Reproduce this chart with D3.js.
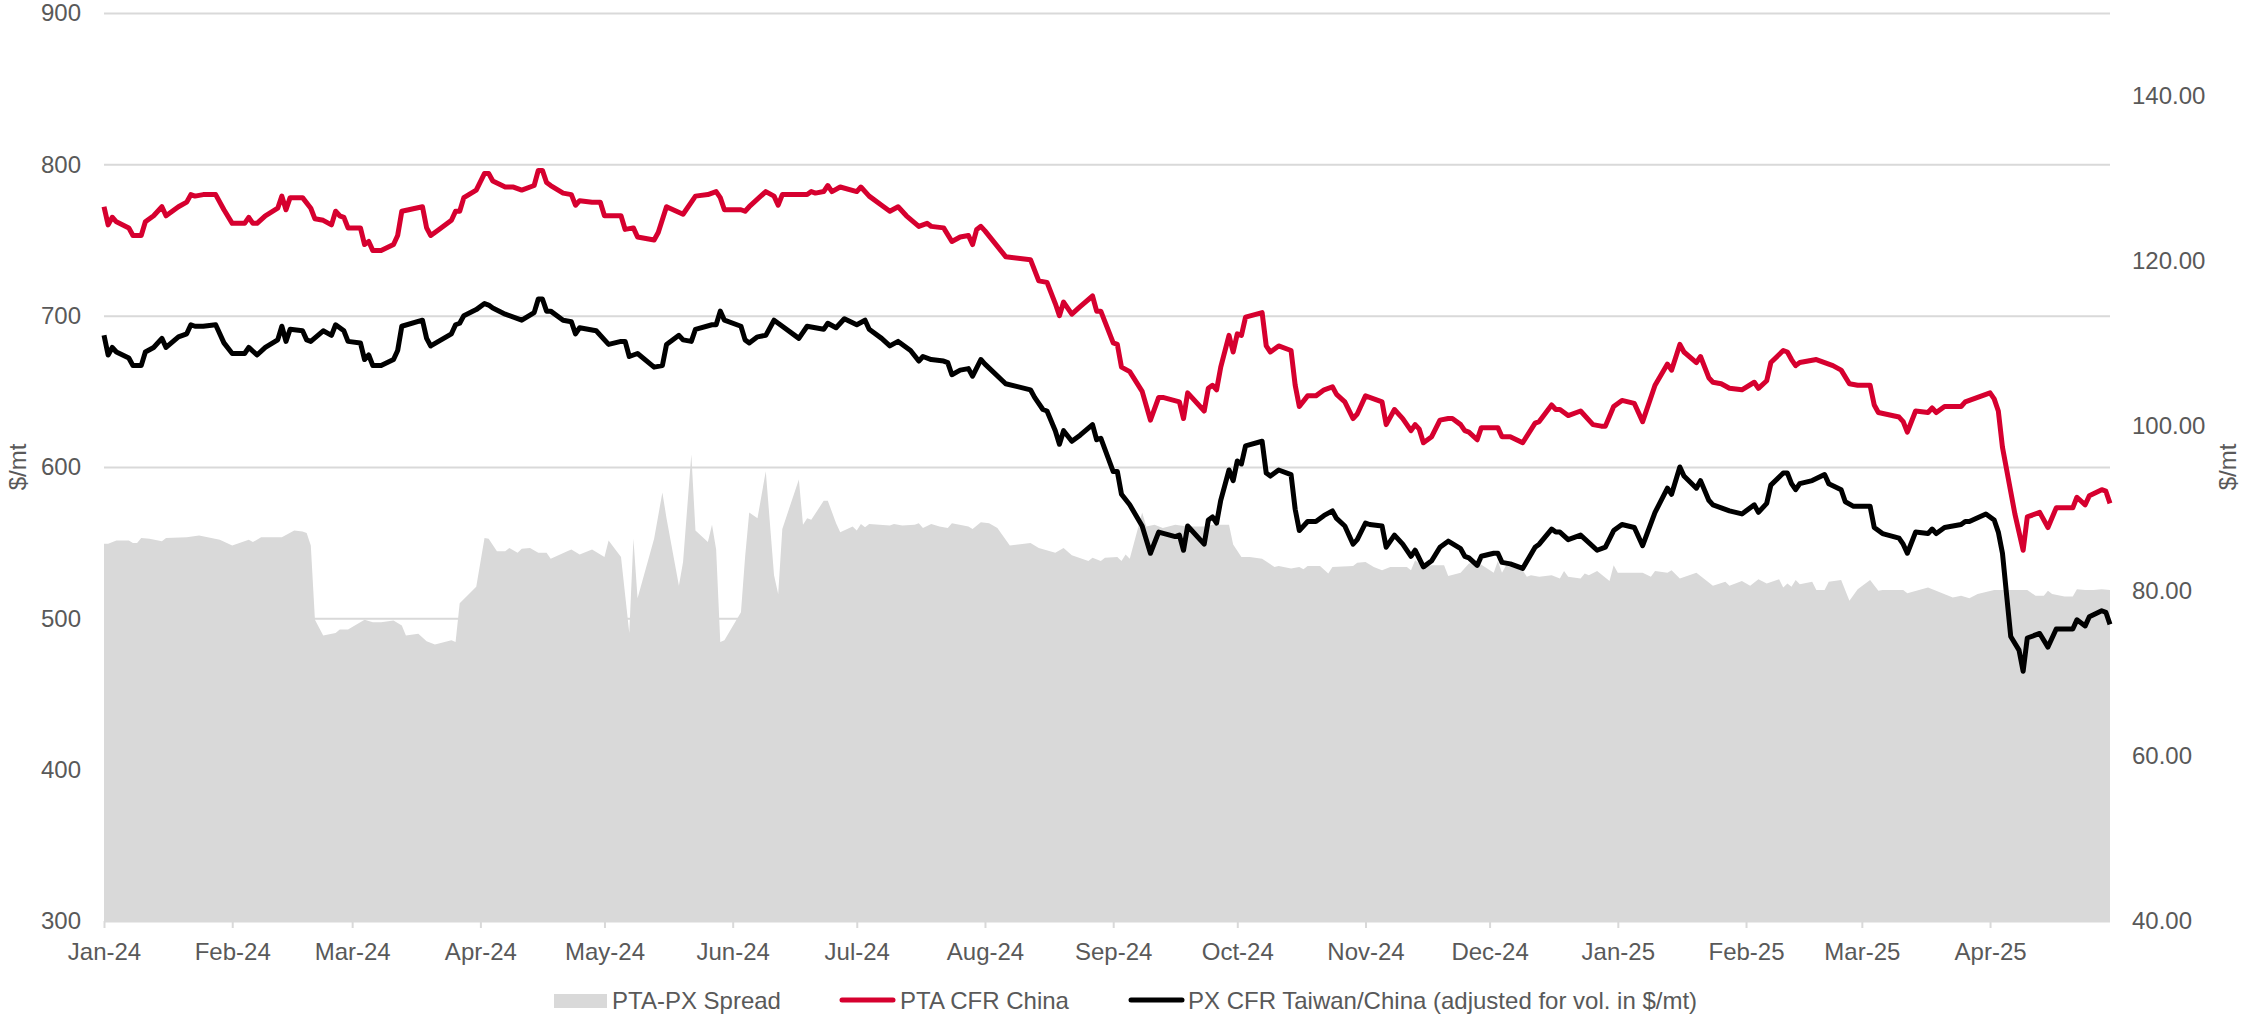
<!DOCTYPE html>
<html lang="en">
<head>
<meta charset="utf-8">
<title>PTA / PX</title>
<script src="https://cdn.jsdelivr.net/npm/d3@7"></script>
<style>
  body { margin: 0; background: #fff; }
  text { font-family: "Liberation Sans", Arial, sans-serif; fill: #595959; }
</style>
</head>
<body>
<script>
// values, [date, $/mt]
var ptaCFR = [["2024-01-01",772],["2024-01-02",760],["2024-01-03",765],["2024-01-04",762],["2024-01-07",758],["2024-01-08",753],["2024-01-10",753],["2024-01-11",762],["2024-01-13",766],["2024-01-15",772],["2024-01-16",766],["2024-01-19",772],["2024-01-21",775],["2024-01-22",780],["2024-01-23",779],["2024-01-25",780],["2024-01-28",780],["2024-01-30",770],["2024-02-01",761],["2024-02-04",761],["2024-02-05",765],["2024-02-06",761],["2024-02-07",761],["2024-02-09",766],["2024-02-12",771],["2024-02-13",779],["2024-02-14",770],["2024-02-15",778],["2024-02-18",778],["2024-02-20",771],["2024-02-21",764],["2024-02-23",763],["2024-02-25",760],["2024-02-26",769],["2024-02-27",766],["2024-02-28",765],["2024-02-29",758],["2024-03-03",758],["2024-03-04",747],["2024-03-05",749],["2024-03-06",743],["2024-03-08",743],["2024-03-11",747],["2024-03-12",753],["2024-03-13",769],["2024-03-18",772],["2024-03-19",758],["2024-03-20",753],["2024-03-22",757],["2024-03-25",763],["2024-03-26",769],["2024-03-27",769],["2024-03-28",778],["2024-03-31",783],["2024-04-02",794],["2024-04-03",794],["2024-04-04",789],["2024-04-07",785],["2024-04-09",785],["2024-04-11",783],["2024-04-14",786],["2024-04-15",796],["2024-04-16",796],["2024-04-17",788],["2024-04-18",786],["2024-04-21",781],["2024-04-23",780],["2024-04-24",773],["2024-04-25",776],["2024-04-28",775],["2024-04-30",775],["2024-05-01",766],["2024-05-05",766],["2024-05-06",757],["2024-05-08",758],["2024-05-09",752],["2024-05-13",750],["2024-05-14",755],["2024-05-16",772],["2024-05-20",767],["2024-05-23",779],["2024-05-26",780],["2024-05-28",782],["2024-05-29",778],["2024-05-30",770],["2024-06-03",770],["2024-06-04",769],["2024-06-05",772],["2024-06-09",782],["2024-06-11",779],["2024-06-12",773],["2024-06-13",780],["2024-06-19",780],["2024-06-20",782],["2024-06-21",781],["2024-06-23",782],["2024-06-24",786],["2024-06-25",782],["2024-06-27",785],["2024-07-01",782],["2024-07-02",785],["2024-07-04",779],["2024-07-07",773],["2024-07-09",769],["2024-07-11",772],["2024-07-13",766],["2024-07-16",759],["2024-07-18",761],["2024-07-19",759],["2024-07-22",758],["2024-07-24",749],["2024-07-26",752],["2024-07-28",753],["2024-07-29",747],["2024-07-30",757],["2024-07-31",759],["2024-08-01",756],["2024-08-06",739],["2024-08-12",737],["2024-08-14",723],["2024-08-16",722],["2024-08-18",708],["2024-08-19",700],["2024-08-20",709],["2024-08-22",701],["2024-08-24",706],["2024-08-27",713],["2024-08-28",703],["2024-08-29",703],["2024-09-01",682],["2024-09-02",681],["2024-09-03",666],["2024-09-05",663],["2024-09-08",650],["2024-09-10",631],["2024-09-12",646],["2024-09-13",646],["2024-09-17",643],["2024-09-18",632],["2024-09-19",649],["2024-09-23",637],["2024-09-24",652],["2024-09-25",654],["2024-09-26",651],["2024-09-27",666],["2024-09-29",687],["2024-09-30",676],["2024-10-01",688],["2024-10-02",687],["2024-10-03",699],["2024-10-07",702],["2024-10-08",680],["2024-10-09",676],["2024-10-11",680],["2024-10-14",677],["2024-10-15",654],["2024-10-16",640],["2024-10-18",647],["2024-10-20",647],["2024-10-22",651],["2024-10-24",653],["2024-10-25",648],["2024-10-27",643],["2024-10-29",632],["2024-10-30",635],["2024-11-01",647],["2024-11-02",646],["2024-11-05",643],["2024-11-06",628],["2024-11-08",638],["2024-11-10",632],["2024-11-12",624],["2024-11-13",628],["2024-11-14",625],["2024-11-15",616],["2024-11-17",620],["2024-11-19",631],["2024-11-21",632],["2024-11-22",632],["2024-11-24",628],["2024-11-25",624],["2024-11-26",623],["2024-11-28",618],["2024-11-29",626],["2024-12-03",626],["2024-12-04",620],["2024-12-06",620],["2024-12-09",616],["2024-12-12",629],["2024-12-13",630],["2024-12-16",641],["2024-12-17",638],["2024-12-18",638],["2024-12-20",634],["2024-12-23",637],["2024-12-26",628],["2024-12-28",627],["2024-12-29",627],["2024-12-31",640],["2025-01-02",644],["2025-01-05",642],["2025-01-07",630],["2025-01-10",654],["2025-01-13",668],["2025-01-14",664],["2025-01-16",681],["2025-01-17",676],["2025-01-20",669],["2025-01-21",673],["2025-01-23",659],["2025-01-24",656],["2025-01-26",655],["2025-01-28",652],["2025-01-31",651],["2025-02-03",656],["2025-02-04",652],["2025-02-06",657],["2025-02-07",669],["2025-02-10",677],["2025-02-11",676],["2025-02-12",671],["2025-02-13",667],["2025-02-14",669],["2025-02-18",671],["2025-02-20",669],["2025-02-22",667],["2025-02-24",664],["2025-02-26",655],["2025-02-28",654],["2025-03-03",654],["2025-03-04",641],["2025-03-05",636],["2025-03-10",633],["2025-03-11",630],["2025-03-12",623],["2025-03-14",637],["2025-03-17",636],["2025-03-18",639],["2025-03-19",636],["2025-03-21",640],["2025-03-25",640],["2025-03-26",643],["2025-03-27",644],["2025-04-01",649],["2025-04-02",645],["2025-04-03",637],["2025-04-04",613],["2025-04-07",569],["2025-04-09",545],["2025-04-10",567],["2025-04-13",570],["2025-04-15",560],["2025-04-17",573],["2025-04-21",573],["2025-04-22",580],["2025-04-24",575],["2025-04-25",581],["2025-04-28",585],["2025-04-29",584],["2025-04-30",576]];

var pxCFR = [["2024-01-01",687],["2024-01-02",674],["2024-01-03",679],["2024-01-04",676],["2024-01-07",672],["2024-01-08",667],["2024-01-10",667],["2024-01-11",676],["2024-01-13",679],["2024-01-15",685],["2024-01-16",679],["2024-01-19",686],["2024-01-21",688],["2024-01-22",694],["2024-01-23",693],["2024-01-25",693],["2024-01-28",694],["2024-01-30",682],["2024-02-01",675],["2024-02-04",675],["2024-02-05",679],["2024-02-07",674],["2024-02-09",679],["2024-02-12",684],["2024-02-13",693],["2024-02-14",683],["2024-02-15",691],["2024-02-18",690],["2024-02-19",684],["2024-02-20",683],["2024-02-23",690],["2024-02-25",687],["2024-02-26",694],["2024-02-28",690],["2024-02-29",683],["2024-03-03",682],["2024-03-04",671],["2024-03-05",674],["2024-03-06",667],["2024-03-08",667],["2024-03-11",671],["2024-03-12",677],["2024-03-13",693],["2024-03-18",697],["2024-03-19",685],["2024-03-20",680],["2024-03-25",688],["2024-03-26",694],["2024-03-27",695],["2024-03-28",700],["2024-03-31",704],["2024-04-02",708],["2024-04-03",707],["2024-04-04",705],["2024-04-07",701],["2024-04-11",697],["2024-04-14",702],["2024-04-15",711],["2024-04-16",711],["2024-04-17",703],["2024-04-18",703],["2024-04-21",697],["2024-04-23",696],["2024-04-24",688],["2024-04-25",692],["2024-04-29",690],["2024-05-02",681],["2024-05-05",683],["2024-05-06",683],["2024-05-07",673],["2024-05-09",675],["2024-05-13",666],["2024-05-15",667],["2024-05-16",681],["2024-05-19",687],["2024-05-20",684],["2024-05-22",683],["2024-05-23",691],["2024-05-27",694],["2024-05-28",694],["2024-05-29",703],["2024-05-30",697],["2024-06-03",693],["2024-06-04",684],["2024-06-05",682],["2024-06-07",686],["2024-06-09",687],["2024-06-11",697],["2024-06-13",693],["2024-06-17",685],["2024-06-19",693],["2024-06-23",691],["2024-06-24",695],["2024-06-26",692],["2024-06-28",698],["2024-07-01",694],["2024-07-03",697],["2024-07-04",691],["2024-07-07",685],["2024-07-09",680],["2024-07-11",683],["2024-07-14",677],["2024-07-16",670],["2024-07-17",673],["2024-07-19",671],["2024-07-22",670],["2024-07-23",669],["2024-07-24",661],["2024-07-26",664],["2024-07-28",665],["2024-07-29",660],["2024-07-31",671],["2024-08-01",668],["2024-08-06",655],["2024-08-12",651],["2024-08-13",646],["2024-08-15",638],["2024-08-16",637],["2024-08-18",624],["2024-08-19",615],["2024-08-20",624],["2024-08-22",617],["2024-08-24",621],["2024-08-27",628],["2024-08-28",618],["2024-08-29",619],["2024-09-01",597],["2024-09-02",597],["2024-09-03",582],["2024-09-05",575],["2024-09-08",561],["2024-09-10",543],["2024-09-12",557],["2024-09-16",554],["2024-09-17",555],["2024-09-18",545],["2024-09-19",561],["2024-09-23",549],["2024-09-24",565],["2024-09-25",567],["2024-09-26",563],["2024-09-27",578],["2024-09-29",598],["2024-09-30",591],["2024-10-01",604],["2024-10-02",602],["2024-10-03",614],["2024-10-07",617],["2024-10-08",596],["2024-10-09",594],["2024-10-11",598],["2024-10-14",595],["2024-10-15",572],["2024-10-16",558],["2024-10-18",564],["2024-10-20",564],["2024-10-22",568],["2024-10-24",571],["2024-10-25",566],["2024-10-27",561],["2024-10-29",549],["2024-10-30",552],["2024-11-01",563],["2024-11-02",562],["2024-11-05",561],["2024-11-06",547],["2024-11-08",555],["2024-11-10",549],["2024-11-12",541],["2024-11-13",545],["2024-11-15",534],["2024-11-17",538],["2024-11-19",547],["2024-11-21",551],["2024-11-24",546],["2024-11-25",541],["2024-11-26",540],["2024-11-28",535],["2024-11-29",541],["2024-12-02",543],["2024-12-03",543],["2024-12-04",537],["2024-12-06",536],["2024-12-09",533],["2024-12-12",547],["2024-12-13",549],["2024-12-16",559],["2024-12-17",557],["2024-12-18",557],["2024-12-20",552],["2024-12-23",555],["2024-12-27",545],["2024-12-29",547],["2024-12-31",558],["2025-01-02",562],["2025-01-05",560],["2025-01-07",548],["2025-01-10",570],["2025-01-13",586],["2025-01-14",582],["2025-01-16",600],["2025-01-17",594],["2025-01-20",586],["2025-01-21",591],["2025-01-23",578],["2025-01-24",575],["2025-01-26",573],["2025-01-28",571],["2025-01-31",569],["2025-02-03",575],["2025-02-04",570],["2025-02-06",576],["2025-02-07",588],["2025-02-10",596],["2025-02-11",596],["2025-02-12",589],["2025-02-13",585],["2025-02-14",589],["2025-02-17",591],["2025-02-20",595],["2025-02-21",589],["2025-02-24",585],["2025-02-25",577],["2025-02-27",574],["2025-03-03",574],["2025-03-04",560],["2025-03-06",556],["2025-03-10",553],["2025-03-11",549],["2025-03-12",543],["2025-03-14",557],["2025-03-17",556],["2025-03-18",559],["2025-03-19",556],["2025-03-21",560],["2025-03-25",562],["2025-03-26",564],["2025-03-27",564],["2025-03-31",569],["2025-04-02",565],["2025-04-03",557],["2025-04-04",543],["2025-04-06",488],["2025-04-08",479],["2025-04-09",465],["2025-04-10",487],["2025-04-13",490],["2025-04-15",481],["2025-04-17",493],["2025-04-21",493],["2025-04-22",499],["2025-04-24",495],["2025-04-25",501],["2025-04-28",505],["2025-04-29",504],["2025-04-30",496]];

// PTA-PX spread, right axis
var spread = [["2024-01-01",85.7],["2024-01-02",85.7],["2024-01-04",86.1],["2024-01-07",86.1],["2024-01-08",85.8],["2024-01-09",85.8],["2024-01-10",86.4],["2024-01-12",86.3],["2024-01-15",86.0],["2024-01-16",86.4],["2024-01-21",86.5],["2024-01-24",86.7],["2024-01-29",86.2],["2024-02-01",85.5],["2024-02-05",86.2],["2024-02-06",85.9],["2024-02-08",86.5],["2024-02-13",86.5],["2024-02-16",87.3],["2024-02-18",87.2],["2024-02-19",87.0],["2024-02-20",85.5],["2024-02-21",76.5],["2024-02-23",74.6],["2024-02-26",74.9],["2024-02-27",75.3],["2024-02-29",75.3],["2024-03-04",76.5],["2024-03-06",76.2],["2024-03-08",76.2],["2024-03-11",76.4],["2024-03-13",75.8],["2024-03-14",74.6],["2024-03-17",74.8],["2024-03-19",73.9],["2024-03-21",73.5],["2024-03-25",74.0],["2024-03-26",73.8],["2024-03-27",78.5],["2024-03-31",80.5],["2024-04-02",86.4],["2024-04-03",86.3],["2024-04-05",84.8],["2024-04-07",84.8],["2024-04-08",85.2],["2024-04-10",84.6],["2024-04-11",85.1],["2024-04-13",85.2],["2024-04-15",84.6],["2024-04-17",84.6],["2024-04-18",83.9],["2024-04-22",84.8],["2024-04-23",85.0],["2024-04-25",84.4],["2024-04-28",85.0],["2024-04-30",84.4],["2024-05-01",84.1],["2024-05-02",86.1],["2024-05-05",84.1],["2024-05-07",74.9],["2024-05-08",86.3],["2024-05-09",79.1],["2024-05-13",86.3],["2024-05-15",91.9],["2024-05-16",88.8],["2024-05-19",80.6],["2024-05-20",83.5],["2024-05-22",96.5],["2024-05-23",87.3],["2024-05-26",85.9],["2024-05-27",88.0],["2024-05-28",85.0],["2024-05-29",73.8],["2024-05-30",74.0],["2024-06-03",77.4],["2024-06-04",84.1],["2024-06-05",89.5],["2024-06-07",88.8],["2024-06-09",94.5],["2024-06-11",81.9],["2024-06-12",79.6],["2024-06-13",87.5],["2024-06-17",93.5],["2024-06-18",88.0],["2024-06-19",88.8],["2024-06-20",88.6],["2024-06-23",90.9],["2024-06-24",90.9],["2024-06-26",88.2],["2024-06-27",87.1],["2024-06-30",87.8],["2024-07-01",87.3],["2024-07-02",88.1],["2024-07-03",87.7],["2024-07-04",88.1],["2024-07-09",87.9],["2024-07-10",88.1],["2024-07-12",87.9],["2024-07-15",88.0],["2024-07-16",88.2],["2024-07-17",87.6],["2024-07-19",88.1],["2024-07-21",87.8],["2024-07-23",87.6],["2024-07-24",88.2],["2024-07-28",87.8],["2024-07-29",87.5],["2024-07-31",88.3],["2024-08-02",88.2],["2024-08-04",87.6],["2024-08-07",85.5],["2024-08-12",85.8],["2024-08-14",85.2],["2024-08-18",84.6],["2024-08-20",85.2],["2024-08-22",84.3],["2024-08-26",83.6],["2024-08-27",84.0],["2024-08-29",83.6],["2024-08-30",84.0],["2024-09-02",84.1],["2024-09-03",83.6],["2024-09-04",84.4],["2024-09-05",83.9],["2024-09-08",89.5],["2024-09-09",87.8],["2024-09-11",88.0],["2024-09-13",87.6],["2024-09-16",88.0],["2024-09-19",87.8],["2024-09-23",87.8],["2024-09-25",88.0],["2024-09-29",88.0],["2024-09-30",85.6],["2024-10-02",84.1],["2024-10-04",84.1],["2024-10-07",83.9],["2024-10-10",82.9],["2024-10-11",83.0],["2024-10-14",82.7],["2024-10-16",82.9],["2024-10-17",82.6],["2024-10-18",83.0],["2024-10-21",83.0],["2024-10-23",82.1],["2024-10-24",82.9],["2024-10-29",83.0],["2024-10-30",83.4],["2024-11-01",83.5],["2024-11-03",82.9],["2024-11-05",82.5],["2024-11-07",82.9],["2024-11-11",82.9],["2024-11-12",82.5],["2024-11-13",83.7],["2024-11-15",82.9],["2024-11-17",83.1],["2024-11-20",83.1],["2024-11-21",81.8],["2024-11-24",82.2],["2024-11-26",83.3],["2024-11-28",83.5],["2024-12-02",82.2],["2024-12-03",83.6],["2024-12-04",82.2],["2024-12-05",83.1],["2024-12-09",82.5],["2024-12-10",81.7],["2024-12-11",81.9],["2024-12-13",81.7],["2024-12-16",81.9],["2024-12-18",81.5],["2024-12-19",82.4],["2024-12-20",81.7],["2024-12-23",81.5],["2024-12-24",82.1],["2024-12-25",81.9],["2024-12-27",82.4],["2024-12-30",81.2],["2024-12-31",83.1],["2025-01-01",82.2],["2025-01-07",82.2],["2025-01-09",81.7],["2025-01-10",82.4],["2025-01-13",82.2],["2025-01-14",82.5],["2025-01-16",81.5],["2025-01-20",82.2],["2025-01-24",80.6],["2025-01-27",81.1],["2025-01-28",80.6],["2025-01-31",81.2],["2025-02-02",80.6],["2025-02-04",81.4],["2025-02-06",80.9],["2025-02-09",81.4],["2025-02-10",80.4],["2025-02-11",80.9],["2025-02-12",80.5],["2025-02-13",81.3],["2025-02-14",80.8],["2025-02-17",81.1],["2025-02-18",80.1],["2025-02-20",80.1],["2025-02-21",81.1],["2025-02-24",81.3],["2025-02-26",78.8],["2025-02-28",80.2],["2025-03-03",81.3],["2025-03-05",80.0],["2025-03-06",80.1],["2025-03-11",80.1],["2025-03-12",79.7],["2025-03-17",80.4],["2025-03-23",79.2],["2025-03-25",79.4],["2025-03-27",79.1],["2025-03-29",79.6],["2025-04-02",80.1],["2025-04-07",80.1],["2025-04-10",80.1],["2025-04-12",79.4],["2025-04-14",79.4],["2025-04-15",80.0],["2025-04-16",79.6],["2025-04-19",79.3],["2025-04-21",79.3],["2025-04-22",80.2],["2025-04-24",80.1],["2025-04-26",80.1],["2025-04-28",80.2],["2025-04-30",80.1]];

var leftTicks = [300, 400, 500, 600, 700, 800, 900];
var rightTicks = [40, 60, 80, 100, 120, 140];
var legendNames = ["PTA-PX Spread", "PTA CFR China", "PX CFR Taiwan/China (adjusted for vol. in $/mt)"];

var parse = d3.timeParse("%Y-%m-%d");
function rows(arr){ return arr.map(function(d){ return {date: parse(d[0]), value: d[1]}; }); }
var ptaRows = rows(ptaCFR), pxRows = rows(pxCFR), spreadRows = rows(spread);

// plot box (note: "top" is taken by window.top, so use other names)
var W = 2245, H = 1014;
var plotL = 104, plotR = 2110, plotT = 13, plotB = 921;
var red = "#D6002F", grey = "#D9D9D9";
var fs = "24px";

var svg = d3.select("body").append("svg").attr("width", W).attr("height", H);

var x = d3.scaleTime().domain([parse("2024-01-01"), parse("2025-04-30")]).range([plotL, plotR]);
var yL = d3.scaleLinear().domain([300, 900]).range([plotB, plotT]);
var yR = d3.scaleLinear().domain([40, 150]).range([plotB, plotT]);

// gridlines from the left axis
var gy = svg.append("g").attr("transform", "translate(" + plotL + ",0)")
  .call(d3.axisLeft(yL).tickValues(leftTicks).tickSize(-(plotR - plotL)).tickFormat(""));
gy.select(".domain").remove();
gy.selectAll("line").attr("stroke", grey).attr("stroke-width", 2);

// spread area on the right axis
svg.append("path").datum(spreadRows)
  .attr("fill", grey)
  .attr("d", d3.area().x(function(d){ return x(d.date); }).y0(plotB).y1(function(d){ return yR(d.value); }));

var lineL = d3.line().x(function(d){ return x(d.date); }).y(function(d){ return yL(d.value); });

svg.append("path").datum(pxRows).attr("fill", "none").attr("stroke", "#000")
  .attr("stroke-width", 5).attr("stroke-linejoin", "round").attr("d", lineL);
svg.append("path").datum(ptaRows).attr("fill", "none").attr("stroke", red)
  .attr("stroke-width", 5).attr("stroke-linejoin", "round").attr("d", lineL);

// left axis labels
var al = svg.append("g").attr("transform", "translate(" + plotL + ",0)")
  .call(d3.axisLeft(yL).tickValues(leftTicks).tickSize(0).tickPadding(23));
al.select(".domain").remove();
al.selectAll("text").style("font-size", fs).attr("fill", "#595959");

// right axis labels
var ar = svg.append("g").attr("transform", "translate(" + plotR + ",0)")
  .call(d3.axisRight(yR).tickValues(rightTicks).tickSize(0).tickPadding(22).tickFormat(d3.format(".2f")));
ar.select(".domain").remove();
ar.selectAll("text").style("font-size", fs).attr("fill", "#595959");

// x axis, month ticks
var ax = svg.append("g").attr("transform", "translate(0," + plotB + ")")
  .call(d3.axisBottom(x).ticks(d3.timeMonth.every(1)).tickSize(7).tickPadding(0).tickFormat(d3.timeFormat("%b-%y")));
ax.select(".domain").remove();
ax.selectAll("line").attr("stroke", grey).attr("stroke-width", 2);
ax.selectAll("text").style("font-size", fs).attr("fill", "#595959").attr("y", 39).attr("dy", null);

// axis titles
svg.append("text").attr("transform", "translate(26,467) rotate(-90)")
  .attr("text-anchor", "middle").style("font-size", fs).text("$/mt");
svg.append("text").attr("transform", "translate(2236,467) rotate(-90)")
  .attr("text-anchor", "middle").style("font-size", fs).text("$/mt");

// legend
var lg = svg.append("g");
lg.append("rect").attr("x", 554).attr("y", 994).attr("width", 53).attr("height", 14).attr("fill", grey);
lg.append("text").attr("x", 612).attr("y", 1009).style("font-size", fs).text(legendNames[0]);
lg.append("line").attr("x1", 842).attr("x2", 893).attr("y1", 1000).attr("y2", 1000)
  .attr("stroke", red).attr("stroke-width", 5).attr("stroke-linecap", "round");
lg.append("text").attr("x", 900).attr("y", 1009).style("font-size", fs).text(legendNames[1]);
lg.append("line").attr("x1", 1131).attr("x2", 1182).attr("y1", 1000).attr("y2", 1000)
  .attr("stroke", "#000").attr("stroke-width", 5).attr("stroke-linecap", "round");
lg.append("text").attr("x", 1188).attr("y", 1009).style("font-size", fs).text(legendNames[2]);
</script>
</body>
</html>
